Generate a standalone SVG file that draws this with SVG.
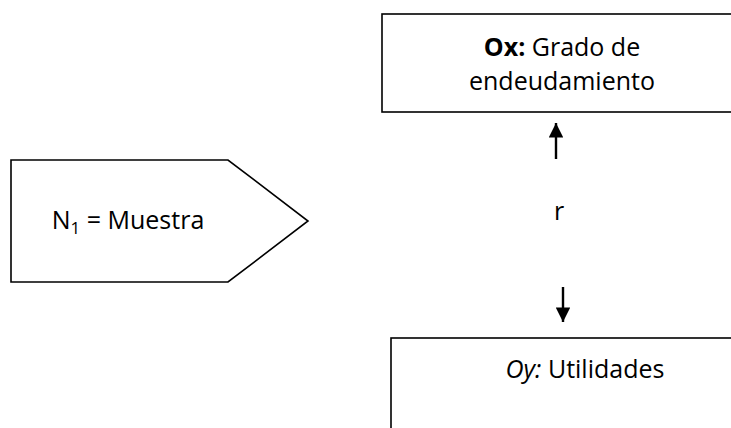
<svg xmlns="http://www.w3.org/2000/svg" width="731" height="428" viewBox="0 0 731 428">
<style>
.shape{fill:#fff;stroke:#000;stroke-width:1.6}
.t{font-family:"Open Sans","Liberation Sans",sans-serif;font-size:25px;fill:#000}
.conn{stroke:#000;stroke-width:2.4;fill:none}
</style>
<defs>
<marker id="ah" viewBox="0 0 10 10" refX="10" refY="5" markerWidth="6.5" markerHeight="6" orient="auto" markerUnits="strokeWidth">
<path d="M0,0 L10,5 L0,10 Z" fill="#000"/>
</marker>
</defs>
<rect width="731" height="428" fill="#fff"/>
<g id="muestra">
<path class="shape" d="M11,160 H228 L308,221 L228,282 H11 Z"/>
<text class="t" x="128" y="229" text-anchor="middle">N<tspan font-size="17" dy="5">1</tspan><tspan dy="-5"> = Muestra</tspan></text>
</g>
<g id="ox">
<rect class="shape" x="382" y="14" width="360" height="98"/>
<text class="t" x="562" y="56" text-anchor="middle"><tspan font-weight="bold">Ox:</tspan> Grado de</text>
<text class="t" x="562" y="90" text-anchor="middle">endeudamiento</text>
</g>
<g id="oy">
<rect class="shape" x="391" y="338" width="360" height="100"/>
<text class="t" x="585" y="378" text-anchor="middle"><tspan font-style="italic">Oy:</tspan> Utilidades</text>
</g>
<g id="connectors">
<line class="conn" x1="556" y1="159" x2="556" y2="123" marker-end="url(#ah)"/>
<line class="conn" x1="563" y1="287" x2="563" y2="322" marker-end="url(#ah)"/>
<text class="t" x="559" y="220" text-anchor="middle">r</text>
</g>
</svg>
